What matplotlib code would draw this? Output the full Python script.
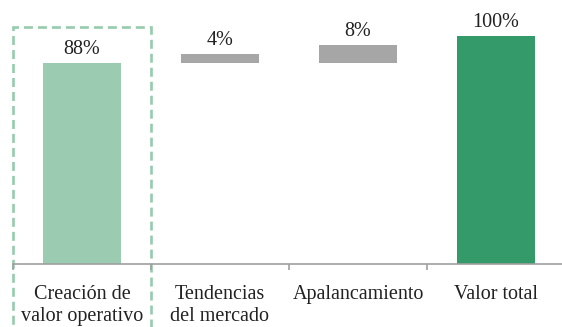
import matplotlib.pyplot as plt
from matplotlib.patches import Rectangle

# data
categories = ["Creación de\nvalor operativo", "Tendencias\ndel mercado", "Apalancamiento", "Valor total"]
values = [88, 4, 8, 100]
bottoms = [0, 88, 88, 0]
labels = ["88%", "4%", "8%", "100%"]
colors = ["#9BCCB2", "#A6A6A6", "#A6A6A6", "#349A69"]

plt.rcParams["font.family"] = ["Liberation Serif", "DejaVu Serif"]

fig = plt.figure(figsize=(5.62, 3.27), dpi=100)
# axes: x from 13px, 138px per category; y baseline at 264px, 100% at 36px
ax = fig.add_axes([13 / 562, 63 / 327, 552 / 562, 228 / 327])
ax.set_xlim(-0.5, 3.5)
ax.set_ylim(0, 100)

x = range(len(categories))
ax.bar(x, values, bottom=bottoms, width=0.57, color=colors)

for i in x:
    ax.annotate(labels[i], (i, bottoms[i] + values[i]), xytext=(0, 3),
                textcoords="offset points", ha="center", va="bottom",
                fontsize=14.5, color="#222222", annotation_clip=False)

# dashed highlight box around first category
box = Rectangle((-0.5, -40), 1.0, 144.0, fill=False, edgecolor="#96CBAE",
                linewidth=1.9, linestyle=(0, (3.4, 1.9)), clip_on=False)
ax.add_patch(box)

for s in ["top", "right", "left"]:
    ax.spines[s].set_visible(False)
ax.spines["bottom"].set_color("#A0A0A0")
ax.spines["bottom"].set_linewidth(1.2)

ax.set_yticks([])
ax.set_xticks(list(x))
ax.set_xticklabels(categories, fontsize=14.5, color="#222222", linespacing=1.2)
ax.tick_params(axis="x", which="major", length=0, pad=15)
ax.set_xticks([-0.5, 0.5, 1.5, 2.5, 3.5], minor=True)
ax.tick_params(axis="x", which="minor", length=4, width=1.2, color="#A0A0A0")

fig.savefig("out.png", dpi=100)
